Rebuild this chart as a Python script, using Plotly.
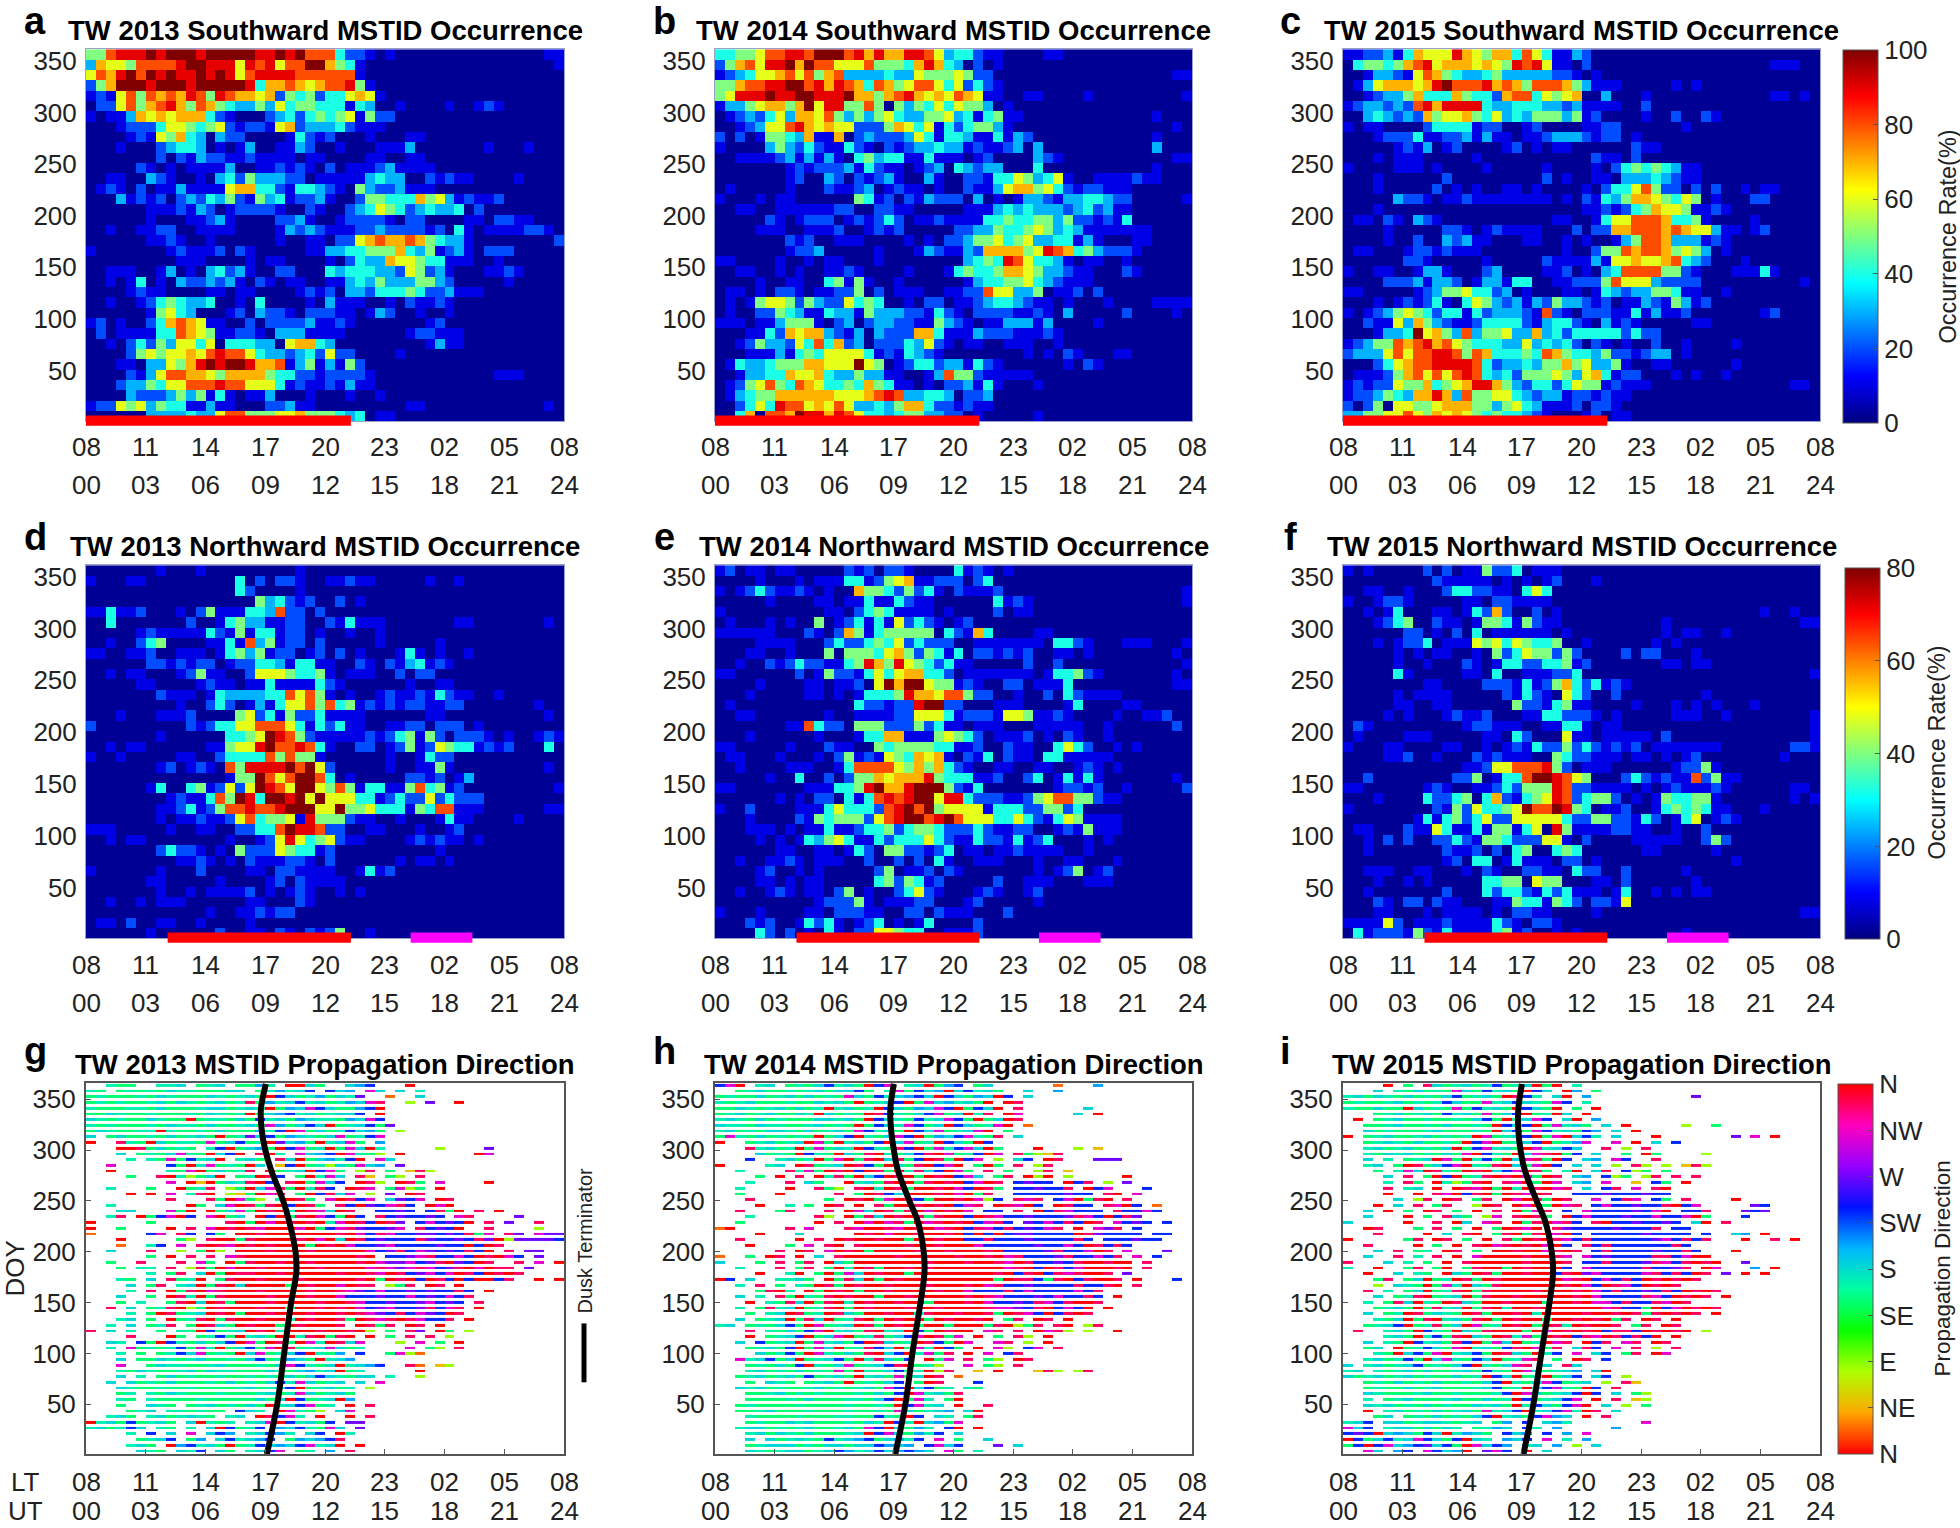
import plotly.graph_objects as go

W, H = 1960, 1528
NCOL = 48

# Occurrence panels: one string per 10-DOY row, top row first. Tokens are "startcol:levels".
# Level digits 0-9 are tenths of the colour scale, X is the top of the scale.
A_ROWS = [
"0:558999X9XXX9XXXXX99X9X8884221 30:1 46:11","0:3766588889XX9996989688XX7541 47:1","0:6879X8X9X99X9X96899998888883 27:1","0:257XXX9XXX9XXXXX947787678895 28:1",
"0:121685878798598776725452446761","0:02268578975875433536455444143001 36:1 39:121","0:1011376767774210002342454561 28:5 29:22","0:000122246654562122167233342111",
"4:1216574303220000142120001 32:11","3:1 7:234430101300113200 25:1 29:1113 40:1 44:1","7:202132211211110110000 28:11 32:11","5:21 8:1 10:1111 14:3 17:11 19:2 20:1 21:2 22:1 24:2 26:1112 30:3 31:1111",
"2:11 6:3 7:21 11:1 13:3 14:4 15:2 16:5 17:333 20:22 23:11111 28:3 29:4 30:33 34:212 37:11 43:1","1:121 5:2 7:11 9:3 10:1111 14:6 15:77 17:44 19:2 20:1 21:44 23:3 24:2 25:1 27:5 28:3 29:22 31:3 32:111","3:31212 9:232 12:43 14:5 15:2 16:1 17:5 18:3 19:4 20:1 21:22 23:31 27:2 28:55 30:44 32:4 33:7 34:5 35:6 36:3 37:1 38:2 39:11 41:2","6:111 9:2 10:1 11:3 12:2 14:1 15:2222 19:1 22:2 23:1 26:2 27:3 28:4 29:6 30:5 31:4 32:2 33:3 34:4 35:33 37:4 39:2",
"6:1 10:11 12:2 13:3 14:1 19:22 21:3 22:1 25:1 26:2222 30:1 32:22 38:11 41:22 43:11","2:1 5:11 7:22 11:1111 19:1 20:3 21:2 22:3 23:2 24:11 26:1 27:22 29:3 30:2222 34:1 35:2 37:4 38:1 40:1111 44:22 46:1","6:11 8:2 9:1 12:1 19:1 22:11 25:22 27:6 28:7 29:8 30:77 32:8 33:7 34:5 35:4 36:33 38:1 47:2","0:1 8:1 9:2 10:111 13:2 15:2 16:1 22:11 24:33 26:44 28:555 31:7 32:4 33:3 34:5 35:1 36:2 37:3 38:1 40:222",
"9:111 16:1 18:11 24:1 26:2 27:4 28:33 30:7 31:66 33:5 34:44 36:111 41:1","2:111 7:1 8:3 10:1 12:3 13:4 14:2 15:3 16:1 19:22 24:4 25:3 26:444 29:33 31:2 32:6 33:5 34:2 35:3 36:1 40:11 42:2 43:1","2:1 4:1 5:4 7:1 9:3 10:22 12:3 13:2 14:3 15:1 17:2 18:1 20:11 24:11 26:3 27:4 28:3 29:5 30:33 32:3 33:55 35:3 36:2 42:1","4:1 5:2 6:11 12:11 15:11 21:1 22:2 23:1 24:2 26:33 28:2 29:4 30:44 32:5 33:4 34:22 36:3 37:111",
"2:1 5:1 6:2 7:4 8:5 9:4 10:33 12:4 15:1 17:4 22:1 24:3 25:111 30:1 32:2 33:11 35:2 36:1","6:1 7:5 8:6 9:4 10:3 14:1 15:2 17:3 18:22 20:1 22:222 25:11 28:1 29:3 30:2 33:1 36:1","0:1 1:2 3:1 6:2 7:4 8:7 9:8 10:7 11:6 12:11 16:2 18:2222 22:3 23:11 25:2 26:1 34:1 35:2","1:2 3:1111 7:44 9:8 10:7 11:6 12:5 13:11 15:22 17:1 19:333 22:1111 32:1 33:22 35:111",
"2:1 4:2 5:4 6:2 7:5 8:3 9:66 11:4 12:6 14:444 17:33 20:6 21:77 23:4 24:3 34:1 35:3 36:11","4:2 5:5 6:6 7:5 8:66 10:7 11:6 12:8 13:9 14:88 16:6 17:4 18:33 20:2 21:3 22:4 23:2 24:6 25:22 31:1","3:11 6:33 8:6 9:5 10:7 11:9 12:X 13:9 14:XX 16:9 17:77 19:8 20:1 21:3 22:5 23:1 24:3 25:1 26:5 27:2","4:2 5:1 6:3 7:6 8:88 10:77 12:6 13:5 14:7777 18:5 19:44 21:22 23:1 24:2222 28:1 41:111",
"3:2 4:33 6:5 7:4 8:66 10:888 13:9 14:88 16:666 19:4 20:1 21:2 22:11 24:2 25:1 26:3 27:11","4:3 5:222 8:3 9:5 10:3 11:5 12:1 13:4 14:1 16:11 18:3 22:1 26:1 29:1","0:1 1:22 3:6 4:5 5:6 6:3 7:5 8:44 10:11 12:3 13:11 18:22 20:3 21:11 32:11 46:1","6:3333 10:4 11:33 13:6 14:88 16:555 19:66 21:7 22:55 24:5 25:4 26:3 27:4 29:11",
]
B_ROWS = [
"0:4455688998XXX8979779986344211 33:11","0:25786 5:99X7X88666855547974302 27:01","0:12346678685783333433 20:6555 24:65 26:22 46:11","0:5578899XX8979874875688646 25:2421",
"0:56999X99XX999X775789767687 26:611 31:11 37:1 47:1","0:13356775 8:7X6995585 18:5 19:3546465 26:5 27:3 29:1","1:1232463 8:77 10:6 11:8 12:5 13:3 14:5 15:3 16:5 17:6 18:4 19:33 21:55 23:6 24:3 25:4 26:1 27:45 29:11 44:1","2:12 4:3 5:66 7:8 8:9 9:7 10:6 11:7 12:66 14:222 17:5 18:7 19:6 20:4 21:6 22:1 23:4 24:2 25:4 26:55 28:3 29:1 46:1",
"0:2 2:2 4:1 5:55 7:4 8:3 9:7 10:11 12:7 14:2 15:3 16:222 19:3 20:6 21:4 22:1 23:44 25:3 26:11 28:4 29:1 30:3 31:2 44:1","0:1 5:3 6:5 7:3 8:2 9:4 10:2 11:11 13:4 14:2 15:1 17:2 18:1 19:2 20:33 22:4 23:33 25:1 26:2 27:11 29:2 30:3 32:3 44:3","2:1111 6:2 7:3 8:1 9:3 10:1 11:3 12:1 14:4 15:5 16:3 17:44 19:11 21:4 22:1 23:11 26:12 32:3 33:2 34:1 46:11","7:1 8:2 9:1 10:222 13:3 14:1 15:4 16:2 17:11 20:1 21:2 22:3 24:4 25:3 26:2 27:33 32:4 44:1",
"7:1 8:2 11:3 12:2 14:2 15:1 16:2 17:3 18:1 21:3 22:1 25:22 27:1 28:44 30:6 31:5 32:3 33:4 34:6 35:1 38:1111 42:2 43:11","1:1 7:1 11:2 12:11 14:2 15:3 17:1 18:2 19:11 22:1 25:2 26:11 28:3 29:6 30:77 32:5 33:6 34:4 35:2 36:1 37:22 39:111","0:1 4:1 6:11 14:5 15:4 16:1 17:2 19:2 20:1 21:3 22:222 26:3 28:1 30:1 31:33 33:2 34:1 35:33 37:44 39:3 40:22 47:1","2:11 6:111111 12:22 16:22 18:11 25:111 28:3 29:4 30:3 31:4 32:333 35:2 36:3 37:4 38:2 39:3 40:11",
"5:2 6:1 8:1 9:222 13:1 14:2 15:1 16:2 17:4 18:2 20:11 22:2 23:1111 27:44 29:5 30:44 32:55 34:3 35:5 36:22 38:1 39:2 40:1 41:4","4:111 9:111 12:2 15:1 16:2 17:1 18:2 24:22 26:33 28:5 29:44 31:5 32:6 33:5 34:3 35:4 36:3 37:1111111","7:2 8:1 9:2 12:111 19:1 21:1 23:22 25:3 26:55 28:6 29:4 30:5 31:6 32:33 34:44 36:1 37:3 38:1 42:11","7:1 8:22 10:3 16:1 20:1 21:3 22:2 23:11 25:32 27:7777 31:5 32:6 33:9 34:8 35:7 36:4 37:5 38:3 39:222 42:1",
"0:11 6:1 9:1 11:11 16:1 25:3 26:4 27:5 28:4 29:9 30:8 31:6 32:44 34:3 35:1 37:11 41:1","2:11 6:1 8:1 11:11 13:2 14:1 19:1 23:1 24:4 25:5 26:44 28:5 29:77 31:6 32:5 33:33 35:2 36:11 41:2 42:1","4:1 7:11 11:4 12:5 13:1 14:5 15:1 18:1 25:1 26:3 27:44 29:55 31:6 32:4 33:3 34:2 35:111","1:11 4:1 6:22 8:1 10:11 12:22 14:5 16:2 18:111 23:11 25:22 27:8 28:66 30:33 32:5 34:11 36:2 38:2",
"1:1 3:1 4:5 5:66 7:5 8:2 9:5 10:3 11:22 13:6 14:4 15:5 16:4 19:1 21:22 24:11 26:2 27:3 28:44 30:3 31:2 32:11 35:1 39:1 44:1111","1:1 4:22 6:5 7:4 8:3 9:11 11:4 12:33 14:1 15:5 16:333 19:22 21:1 22:4 23:2 24:1 26:2222 30:11 32:2 33:1 35:3 41:2 46:1","0:111 4:11 6:3 7:555 10:1 12:2 13:3 15:2 16:33 18:22 20:11 22:5 23:3 24:2 25:1 27:11 29:333 32:1 33:3 38:1","3:11 5:4 6:2 7:7 8:6 9:77 11:3 12:2 13:1 14:3 16:3 17:222 20:77 22:4 23:111 26:3 27:222 30:111 33:2 34:1",
"2:1 3:2 4:5 5:33 7:2 8:6 9:4 10:8 11:4 12:7 13:2 14:3 16:222 19:4 20:3 21:6 22:2 23:1 25:11 29:111 34:1","3:111 6:3 7:1 8:4 9:5 10:4 11:6666 15:4 16:1 17:2 18:1 19:4 20:3 21:2 22:1 31:1 33:1 35:2 36:1 40:11","1:1 2:4 3:33 5:4 6:555 9:77 11:666 14:X 15:6 16:5 18:1 19:2 20:44 22:2 23:33 25:1 26:4 27:2 28:1 35:1 37:2 38:1","2:1 3:33 5:44 7:7 8:66 10:7 11:4 12:33 14:5 15:33 17:11 21:1 22:3 23:8 24:55 26:2 27:11111",
"1:1 2:2 3:5 4:6 5:8 6:5 7:4 8:8 9:7 10:6 11:44 13:5 14:4 15:7 16:5 17:4 18:11 21:1 23:22 25:3 26:1 27:4 28:1 32:1","1:1 2:3 3:4 4:55 6:777777 12:666 15:7 16:8 17:9 18:8 19:33 21:44 23:3 25:22 27:3","2:2 3:4 4:6 5:4 6:9 7:88 9:6 10:7 11:6 12:8 13:6 14:33 16:4 17:3 18:5 19:77 21:4 22:22 24:1 25:2 26:11","2:4 3:7 5:88 7:7 8:X 9:99 11:7 12:9 13:8 14:6 15:44 17:3 18:4 19:55 21:33 23:22 26:1 32:1",
]
C_ROWS = [
"0:11 2:22 4:3 5:1 6:4 7:7 8:666 11:9 12:7 13:6 14:5 15:77 17:4 18:8 19:6 20:4 21:11 23:3 24:2","1:4 2:55 4:4 5:5 6:7 7:8 8:9 9:6 10:777 13:6 14:7 15:6 16:5 17:9 18:8 19:9 20:6 21:11 24:2 43:111","2:1 3:33 5:2 6:1 7:6 8:8 9:7 10:5 11:4 12:33 14:4 15:5 16:33333 21:22 23:1 25:1","1:1 2:3 3:6 4:777 7:6 8:7 9:9 10:X 11:888 14:9 15:7 16:8 17:7 18:5 19:888 22:7 23:5 24:3 25:111 33:1 35:1",
"2:1 3:2 4:33 6:5 7:7 8:444 11:7 12:5 13:44 15:2 16:7 17:88 19:4 20:6 21:5 22:6 23:7 26:3 30:1 43:11 46:1","0:1 1:2 2:33 4:2 5:3 6:2 7:8 8:9 9:7 10:9999 14:4 15:33 17:444 20:33 22:2 23:3 24:1 25:111 30:2","2:3 3:4 4:3 5:2 6:3 7:2 8:7 9:5 10:66 12:7 13:5 14:4 15:6 16:3 17:4 18:3 19:555 22:3 23:5 24:1 25:2 30:1 33:2 36:2 37:1","0:1 2:11 8:2 9:4444 13:1 14:22 18:1 19:2 24:11 26:22 34:1",
"3:1 4:222 7:4 8:11 10:22 12:3 13:1 14:3 15:11 18:11 20:2 21:333 24:2 25:1 26:22 29:1","5:1 6:2 7:1 8:3 10:1 11:2 16:1 17:2 19:1 21:11 29:2 30:11","3:1 5:111 13:1 25:2 26:11 29:2","0:1 5:111 9:1 14:1 20:1 25:1 27:2 28:4 29:5 30:4 31:5 32:4 33:3 34:11",
"3:1 10:2 20:2 22:1 25:11 28:333 31:4 32:3 33:2 34:11","3:1 9:2 11:1 13:1 16:11 19:1 24:1 26:2 27:44 29:6 30:8 31:5 32:22 35:2 37:2 40:1 42:11","5:3 6:22 8:1 10:11 12:2 13:11111111 22:1 24:2 25:1 26:4 27:3 28:5 29:77 31:6 32:5 33:4 34:6 35:5 37:1 41:22","3:1 24:11 26:2 27:1 28:2 29:4 30:5 31:7 32:66 34:5 35:1 36:1 37:2 38:1",
"1:11 4:2 5:1 7:3 8:2 9:1 21:11 25:1 26:4 27:66 29:888 32:7 33:44 35:5 36:1 41:1","4:1 10:22 12:1 14:1 15:2 16:1111 23:2 25:22 27:77 29:888 32:7 33:8 34:7 35:66 37:3 38:11 41:1 42:2","4:1 7:2 10:3 11:2 12:3 13:11 18:11 22:1 24:1 27:1 28:3 29:5 30:88 32:7 33:333 36:1 37:2 38:1","1:11 6:1 7:22 9:1 10:2 11:111 22:1 25:2 26:55 28:8 29:7 30:88 32:7 33:5 34:6 35:5 36:3 38:1",
"6:22 8:1 14:1 20:2 21:1111 25:3 26:1 27:66 29:7 30:66 32:7 33:8 34:4 35:3 36:2 40:1","0:1 3:11 7:1 8:33 10:1 14:2 15:3 20:11 22:2 24:1 26:3 27:4 28:8888 32:55 34:2 35:1 39:111 42:4 43:1","4:222 7:3 8:1 9:33 11:2 13:1 14:33 16:1 17:44 21:11 23:2222 26:5 27:8 28:666 31:3 32:2222 46:1","0:11 7:12 9:3 10:55 12:6 13:44 15:2 16:3 18:1 22:11 25:1 26:4 27:3 28:2 29:33 31:55 33:4 34:1 35:1 38:1",
"3:1 5:1 6:2 7:1 8:2 9:4 10:1 12:4 13:6 14:5 15:3 16:2 17:3 18:1 19:3 20:2 21:5 22:33 24:2 25:1 26:2 28:11 30:3 31:2 32:1 33:5 34:3 35:1 36:2","0:1 2:1 3:2 4:3 5:5 6:6 7:5 8:4 9:2 10:44 12:1 13:4 14:2 15:333 18:2 19:1 20:8 21:2 22:1 24:222 27:11 29:4 30:1 31:3 32:11 34:2 42:1 43:2","2:2 3:11 5:6 6:3 7:7 8:5 9:3 10:2 11:11 13:2 14:4444 18:2 19:1 20:3 21:44 23:2 24:1 26:3 27:1 28:2 29:1 35:11","3:1 4:33 6:4 7:X 8:6 9:7 10:5 11:3 12:8 13:3 14:55 16:6 17:33 19:7 20:3 21:4 22:2 23:44444 28:2 29:4 30:22",
"0:1 1:2 2:3 3:55 5:8 6:7 7:8 8:9 9:7 10:8 11:6 12:5 13:444 16:33 18:6 19:3 20:4 21:3 22:4 23:2 25:2 26:1 28:1 31:2 34:1 39:1","0:2 1:333 4:6 5:8 6:6 7:88 9:99 11:8 12:5 13:8 14:7 15:444 18:5 19:4 20:8 21:7 22:5 23:44 25:3 26:5 27:22 29:1 30:2 31:33 34:1","3:2 4:4 5:6 6:7 7:88 9:9999 13:8 14:4 15:2 16:33 18:4 19:3 20:55 22:7 23:5 24:6 25:33 27:5 28:1 31:11 39:1","1:111 4:2 5:5 6:7 7:8 8:6 9:8 10:6 11:8 12:9 13:8 14:4 15:3 16:4 17:2 18:555 21:6 22:5 23:3 24:6 25:7 26:4 27:1 28:22 33:1 35:1 38:1",
"0:1 1:2 2:1 3:22 5:6 6:55 8:7 9:4 10:5 11:6 12:7 13:99 15:7 16:5 17:3 18:2 19:44 21:2 22:4 23:6 24:55 26:1 27:2 28:111 45:11","0:1 1:22 3:3 4:5 5:4 6:3 7:77 9:9 10:7 11:3 12:8 13:55 15:66 17:4 18:3 19:2 20:33 22:1 23:22 25:1 26:2 27:11","0:2 2:2 3:5 5:66 7:55 9:6 10:777 13:55 15:3 16:5 17:6 18:4 19:3 20:111 23:2 25:22 27:1","0:33 2:55 4:66 6:8 7:6 8:5 9:7 10:6 11:7 12:6 13:5454 17:4 18:3 19:2 20:1 24:1 25:2 27:11",
]
D_ROWS = [
"7:1 11:1 21:1","0:1 4:11 15:4 17:2 19:22 21:1 24:11 26:2 27:11 34:1 37:1","15:4 16:2 21:1","17:5 18:3 19:4 20:2 21:1 22:2 25:2 27:1",
"0:11 2:4 3:11 5:2 9:1 11:2 12:5 13:111 16:44 18:3 19:8 20:22 23:2","2:4 10:2 13:1 14:4 15:5 16:33 18:11 20:22 24:2 25:1 26:4 27:111 37:11 46:1","5:1 6:2 7:1111 11:1 12:4 13:2 14:1 15:5 16:1 17:44 19:1 20:22 23:1 26:1 29:1","2:1 5:2 6:4 7:5 12:11 14:4 15:1 16:8 17:3 18:5 19:1 20:22 23:2 29:1 35:1",
"0:11 4:11 6:2 9:111 13:1 14:4 15:5 16:3 17:5 18:1 19:22 22:1 23:2 25:2 27:1 31:1 32:4 33:1 35:1 38:1","6:22 8:1 9:2 10:1 11:22 14:1 15:22 17:44 19:3 20:1 21:44 23:11 27:2 28:1 30:2 31:1 32:3 33:4 34:1 35:2 36:1","2:1 4:11 9:1 10:2 11:5 12:11 16:2 17:666 20:5 21:44 23:5 24:1 26:111 31:2 33:22","5:11 11:1 12:2 13:11 16:11 18:4 19:11 21:11 23:4 24:2 25:1 32:1 35:11",
"7:2 8:111 12:1 13:4 14:3333 18:44 20:8 21:6 22:8 23:5 24:1 26:1 29:1 30:2 31:11 33:2 34:1 35:4 36:2 37:11 41:1","9:1 12:2 13:4 14:2 16:1 17:3 18:1 19:4 20:66 22:8 23:5 24:8 25:4 26:5 27:1 28:2 29:1 30:2 31:1 32:22 34:11 36:22 45:1","3:1 7:111 10:2 15:5 16:6 17:2 18:4 19:1 20:5 21:22 23:4 24:1111 34:11 46:1","0:2 10:2 11:1 12:2 13:44 15:66 17:888 20:6 21:4 22:1 23:4 24:2 25:4 26:11 30:11 32:22 35:222 39:1",
"7:1 14:44 16:5 17:6 18:X 19:9 20:8 21:5 22:2 23:11111 28:2 29:1 30:2 31:4 32:5 33:1 34:5 35:2 37:222 40:1 42:1 45:1 46:2 47:1","2:1 4:11 12:11 14:5 15:66 17:9 18:X 19:88 21:9 22:8 23:4 24:1 27:22 30:1 31:2 32:5 33:1 34:2 35:6 36:5 37:44 39:1 40:2 41:1 42:2 46:4","0:1 3:1 9:11 13:2 14:4444 18:8 19:5 20:8 21:55 23:1 30:1 33:1 34:4 35:22","7:1 8:2 10:1 11:2 12:1 14:8 15:5 16:9999 20:X 21:8 22:X 23:6 24:2 30:1 33:11 35:5 36:1 46:1",
"14:1 15:55 17:X 18:8 19:6 20:8 21:XX 23:8 24:4 26:1 32:22 34:1 35:2 37:1 38:3","6:1 7:4 10:4 11:5 12:1 13:2 14:6 15:2 16:6 17:X 18:9 19:8 20:6 21:XX 23:6 24:5 25:8 26:5 27:1 28:44 30:11 32:5 33:8 34:4 35:5 36:1 37:2 47:1","8:1 9:2 10:11 12:4 13:8 14:5 15:X 16:9 17:4 18:XX 20:9 21:X 22:6 23:X 24:666 27:44 29:1 30:2 31:4 32:22 34:6 35:2 36:4 37:222","7:11 9:2 10:4 11:1 12:2 13:5 14:88 16:9 17:88 19:9 20:XXX 23:66 25:X 26:55 28:6 29:444 32:1 33:5 34:4 35:88 37:111 46:11",
"7:1 9:11 11:2 12:11 14:2 15:6 16:8 17:4 18:55 20:6 21:1 22:9 23:555 26:2 27:11 31:1 35:1 36:4 37:11 43:1","0:111 8:1 11:11 15:22 17:44 19:8 20:X 21:99 23:8 24:22 28:11 33:1 36:1 37:2","2:1 4:11 14:1 17:1 18:2 19:6 20:9 21:6 22:4 23:5 24:6 25:2 26:11 32:1 33:2 34:1 35:2 36:11 39:1","7:2 8:4 9:22 11:1 13:1 15:5 16:222 19:6 20:5 21:44 23:1 24:2 35:1",
"9:11 11:2 12:1 14:1 16:2 17:111 20:22 22:1 24:2 31:1 33:11 36:1","0:1 7:1 11:2 16:11 19:22 21:1111 27:1 28:4 29:1 30:2","6:11 13:1 18:1 19:2 21:2 22:1 23:111","7:1 10:1 12:1111 16:2 18:1 20:1 21:2 22:1 25:1 27:1",
"2:1 5:1 7:111 16:11 21:2 22:1","12:1 15:11 17:2 18:1 19:22","1:11 4:2 7:11 11:1 16:1","6:1 13:2 16:11 19:2 20:1 22:2 23:1 24:2 25:5 28:1",
]
E_ROWS = [
"0:1 1:2 3:11 6:11 13:2 14:1 15:2 17:22 19:1 24:4 25:1 26:2 27:1 29:1","4:1 8:1 10:111 13:44 15:1 16:2 17:5 18:6 19:7 20:11 22:222 26:2 27:4","0:1 2:1 3:2 4:4 5:2 6:11 8:2 9:1 11:1 14:7 15:55 17:4 18:2 19:5 20:2 21:4 22:1 24:2 25:111 28:2 47:1","5:1 10:11 13:11 15:4 16:11 18:4 19:2 20:11 28:4 29:1 30:2 31:1 47:1",
"0:1 11:11 14:2 15:4 16:5 17:4 18:1111 23:1 28:2 30:11","1:1 5:1 7:1 10:5 12:1 13:2 14:4 15:1 16:4 17:1 18:6 19:2 20:4 21:2 22:1 24:1 25:2","0:111111 9:2 10:1 12:2 13:7 14:5 15:1 16:4 17:55555 23:4 24:2 25:1 26:7 27:4 32:11","4:1111 11:2 12:4 13:22 15:4 16:5 17:4 18:6 19:2 20:4 21:222 26:1111111 34:44 36:2 37:1 41:111 47:1",
"3:11 7:1 11:5 13:555 16:4 17:6 18:7 19:5 20:2 21:5 22:4 23:1 24:4 26:22 28:1 29:2 30:1 31:2 34:11 37:1 46:1","2:1 5:2 6:1 7:2 8:4 9:22 11:11 13:4 14:5 15:9 16:7 17:5 18:9 19:6 20:5 21:4 22:2 23:4 24:11 31:2 34:2 47:1","0:11 8:2 10:1 11:5 12:22 14:1 15:4 16:6 17:4 18:6 19:77 21:44 23:2 25:1111111 33:1 34:44 36:5 37:2 38:1 46:1","4:1 9:11 12:11 14:2 16:6 17:X 18:7 19:XX 21:6 22:55 24:1 25:2 26:1 29:22 32:1 33:11 35:4 46:11",
"3:1 9:11 12:1 14:1 15:444 18:5 19:9 20:77 22:6 23:88 25:5 26:22 30:1 33:2 35:4 36:2 37:1111","1:1 14:4 15:22 17:1 18:2 19:2 20:9 21:XX 23:22 28:111 35:1 36:4 41:11","2:11 11:1 14:1111 18:22 20:666 23:4 24:1 25:222 28:1 29:66 31:5 32:11 34:2 35:1 40:1 43:11 45:2","7:11 9:8 10:4 11:22 14:555 17:222 20:5 21:2 22:4 23:11 26:111 32:11111 39:1 46:2",
"3:1 10:1 14:1 15:44 17:77 19:11 21:1 22:5 23:6 24:5 25:4 26:2 28:111 31:2 33:1 35:2 36:1 39:1","0:11 7:1 11:2 12:11 16:5 17:4 18:5 19:555 22:44 24:11 26:2 29:2 30:11 34:4 35:6 36:4 37:2 40:1 42:1","1:11 6:1 10:1 12:2 13:5 14:1 15:2 16:1 17:6 18:5 19:4 20:7 21:6 22:7 23:1 25:2 26:1 27:4 29:2 30:11 33:44 35:11111","2:1 7:111 12:1 13:4 14:8888 18:6 19:5 20:7 21:5 22:7 23:4 24:2 25:1 28:11 32:11 36:1 37:2 38:1 40:1",
"5:1 8:4 11:2 13:2 14:55 16:7 17:6 18:777 21:9 22:5 23:444 26:11 28:2 31:2 32:4 34:1 35:4 36:1 37:4 38:1 46:1","0:11 9:111 12:44 14:5 15:9 16:X 17:77 19:9 20:XXX 23:5 24:2 25:1 26:4 34:1 35:22 37:1 38:2 41:1 47:2","6:1 8:1 10:22 13:4 14:1 15:4 16:8 17:9 18:8 19:9 20:XX 22:6 23:99 25:4 26:222 29:11 31:2 32:5 33:6 34:88 36:55 38:2 39:11","0:1 3:2 8:111 11:4 12:6 13:44 15:4 16:2 17:8 18:9 19:X 20:8 21:X 22:5 23:6666 27:1 28:444 31:22 33:55 35:2 36:4",
"3:1 8:2 9:1 10:5 11:4 12:555 15:2 16:6 17:8 18:9 19:XX 21:8 22:9 23:X 24:8 25:666 28:44 30:6 31:4 32:2 33:1 34:4 35:6 36:5 37:1111","3:111 7:1 9:11 11:4 12:11 14:2 15:44 17:5 18:2 19:4 20:55 22:4 23:222 26:4 27:2 28:11 30:22 34:1 35:2 36:1 37:5 38:111","4:1 6:1 8:1 9:4 10:3 11:5 12:6 13:4 14:11 16:4 17:2 18:444 21:6 22:4 23:2 24:11 26:4 27:22 29:1 30:4 31:1 32:2 33:4 37:1 39:1","6:11 10:11 13:1 14:4 15:2 17:55 19:22 21:1 22:2 23:4 25:11 28:11 30:2 31:1111 37:1",
"2:1 5:11 7:2 8:1 10:111 15:2 18:2 20:2 22:4 23:1 26:111 32:1 35:11 40:1","4:1 5:2 8:1 10:1 16:2 17:5 19:11 21:2 23:2 24:1 32:1 34:1 35:2 36:5 38:1 39:2","4:11 7:1 9:11 16:4 17:5 18:2 19:5 20:4 21:1 22:2 28:2 31:111 37:111","2:1 5:1 6:2 7:1 9:11 12:2 13:5 15:1 18:2 19:4 20:6 21:2 22:1 26:1 27:2 28:1 31:1 32:2",
"10:1 11:222 14:5 15:1 17:111 20:22 25:1 26:2 32:1","0:1 4:1 9:11 12:222 15:11 19:22 22:2 23:111 29:2","3:2 4:1 5:2 8:1 9:4 10:2 11:4 12:1 14:1 15:2 16:4 18:1 20:1 21:4 26:2","4:4 5:2 7:2 9:1 11:4 12:1 14:22 16:66 18:5 19:44 23:11 25:1 26:2",
]
F_ROWS = [
"0:1 2:1 8:2 10:2 12:11 14:5 15:22 17:4 19:111","9:2 10:11111 16:1 18:1 20:1 21:2 25:1","2:11 6:1 10:2 11:44 13:22 15:11 18:4 19:6 20:4","0:1 3:1 4:22 6:1 12:11 15:22 17:1111",
"2:1 4:1 5:4 9:11 12:1 13:4 14:2 15:7 16:2 19:2 21:1 42:1 45:1","3:1 4:2 5:4 6:5 9:2 10:11 13:1 14:55 16:4 17:1 18:5 19:2 20:11 32:1 46:11","6:22 9:1 11:2 13:4 15:111111 22:1 32:1 34:11 38:1","3:1 5:1 6:22 8:4 10:111 13:6 14:5 15:6 16:4 17:6 18:5 19:44 21:5 24:1 31:1 33:1",
"5:1 7:1 9:11 13:1 15:5 16:2 17:4 18:6 19:55 21:2 22:5 23:2 28:2 30:22 35:1","5:1 8:1 12:2 13:1 15:1 16:44 18:22 20:44 22:5 23:1 24:2 32:11 35:11","5:4 6:1 12:11 15:4 18:111 21:22 23:4 47:1","8:11 14:222 17:1 18:4 19:1 20:2 21:5 22:7 23:4 24:2 25:4 26:1 27:2 28:1",
"5:1 7:1111 16:2 17:1 18:4 19:2 20:1 22:6 23:4 24:2 27:2 36:1","5:11 9:11 17:5 18:22 20:1 21:4 22:5 23:11 29:1 33:1 35:1 37:1 41:1","4:1 6:1 10:1 11:2 12:11 14:2 18:11 20:44 22:222 25:1 27:1 33:111 38:1 47:1","1:2 2:1 12:1 13:22 15:11 17:1 20:11 22:44 24:1 26:11 47:1",
"1:1 6:111 14:11 17:4 18:2 22:6 23:11 26:11111 32:2 47:1","0:1 4:11 10:11 14:1 16:1 17:2 18:1 19:4 20:22 22:5 23:2 24:4 25:2 26:1 27:2 28:1 29:2 31:1111111 45:22 47:1","4:11 6:2 9:1 13:2 14:1 15:2 16:111 21:5 22:4 23:22 25:111 29:11 32:1 34:1 35:2 44:1","12:11 14:2 15:66 17:88 19:8 20:9 21:5 22:2 24:1 25:11 33:1 34:22 36:5 37:1",
"2:2 11:22 13:5 15:1 16:44 18:8 19:XX 21:9 22:8 23:6 24:5 28:2 29:4 30:2 31:1 32:2 33:11 35:8 36:2 37:5 38:11","0:11 8:1 9:2 10:1 13:11 15:2 16:4 17:2 18:55 20:5 21:9 22:8 23:22 25:1111 30:1 32:1 33:2 34:111 37:2 38:1 45:11","3:1 8:4 9:22 11:4 12:5 14:4 15:7 16:2 17:1 18:4 19:5 20:6 21:9 22:8 23:2 24:4 25:55 27:2 29:1 31:1 32:5 33:44 35:55 37:1 45:1 47:1","0:1 9:2 10:1 11:5 12:2 13:6 14:44 16:5 17:6 18:X 19:88 21:X 22:9 23:5 24:4 26:11 28:2 31:1 32:4 33:5 34:4 35:5 36:4 37:11 42:1",
"7:1 8:4 9:1 10:4 11:5 12:2 13:4 14:6 15:22 17:66666 22:4 23:22 25:55 27:22 29:1 30:4 31:2 33:1 34:4 35:6 37:1 38:2 39:1","1:11 6:2 7:11 9:6 10:4 11:11 13:4 14:1 15:55 17:1 18:4 19:6 21:9 22:5 23:1111 27:22 29:11 33:1 36:2","2:1 4:2 6:2 9:22 11:4 12:2 13:1 14:55 16:4 17:222 20:66 22:1 24:2 29:11111 36:2 37:5 38:2","2:1 10:2 11:11 13:2 15:2 17:4 18:5 21:4 22:5 23:4 30:11 37:1",
"10:1 11:2 13:44 16:1 17:4 18:111 22:22 25:1 39:1","2:111 7:11 12:1 14:2 15:1 18:22 20:11 23:4 24:22 28:2 34:1","3:1 6:1 8:1 14:44 16:55 19:6 20:55 25:11 28:2 35:1","2:1 10:2 14:4 15:2 16:44 18:2 19:1 20:4 21:2 22:4 23:111 27:1 28:4 31:1 33:1 35:11",
"3:2 4:1 6:22 9:2 10:11 15:11 17:5 18:44 20:1 21:5 22:4 23:2 25:22 27:1 28:6","3:11 8:1 10:1111 15:1 17:22 19:11 25:1 46:11","0:1111 4:6 5:2 7:111 10:2 11:1111 15:4 16:2 17:1 19:22 21:1","1:4 2:1 3:222 6:1 7:5 8:2 9:1 10:4 11:1111 15:4 16:5 17:1 18:2 21:1 23:1 34:1",
]

# Direction panels: one string per row, top row first; one letter per half-hour bin, "." is empty.
DIR_DEG = {"r":0,"o":25,"y":50,"l":85,"g":148,"t":168,"c":183,"a":205,"b":235,"p":270,"m":310,"k":340}
G_ROWS = [
"..tgg..ttc.gtc.ggat.rrcg..cab...r.","tg.gtgtgcttgggcc.gtatcb.bca.mc.c.t","gtgggtgctgggctgtcgrbcgtagctp..o..c","gtgtggtcgctgtcgtkgatcbtcgtacmk..l.p..r",
"tgggttgcgggtccgtctrgacmbcggabr......","ggctggtgggtgctgtrgcabtcgtccb.r","ctgtggctggrgttgcgbtcgacttgacmb","tgtgggtgcttgcggtcgmagcbcrgtcbgp",
"gctggttrtggtgcgggatbrmgcgtbcag.l","c.gcggtgcgtcgrgtpcbgactgcmgtbm","r..ktgrcgttgmgcbgtrpcagrtcmg.a","...rrkgcgtg.tbrgcagrbmgtrgmcrt.....l....p",
"...c.gtgcmtgrcbr.krt.mcabrmtgl.r.......rm","....t.tgmgbtcr.tcg.kcrgcatbr.mc.","..m.....bgrtmgtgrc.ybrgtlcgmca.p..","..r.....tgmrgcgtk.rgtcrbmg.lk.g.ykl",
"....g..krtlgcr.gtrkb.grtmc.ky.gl.k..","........m.ryrgctkrb.krgmcb.rkl.rkg.m....r","..t...g..rgtk.lgrcmkgrtkb.rkm.gmlg.r","....r.r.m.tkr.lygrmk.grbkcm.l.p.rk",
"........k...kgrmgl.trkg.mrkbm.cpbm.rk","..t.......rg.cmrkgkrbrkg.kbrpbmkb.rmr","...cc...mgr.rgcmgrkrtrkmcrk..bbpb.bkgr.k.r","..tk.rgbmrb.mrgc.rbrgkrmbgrb.kbpbbpb.mk....p",
"r.....g.......krgrmrkrkrtmrkbrkp.bmbpbr.k.p..k","r..g....r.k.mrkrkmrrrmrgbmkpbbpm.kbpbr..k....l","o.....bm.kb.bg.rrkrrrrrrrkrmbkmbbppbpbkgm.kp.mppbm.m","...r.....gl.krrgkrrrrkrmrcrkbpbbbkpbbpbkprlppppbk",
"...o..tb.m.krkmrkrkrrrgrkrmbbpmbbbbpbbrbrk","..c...k..l.grl.rrrkrrrkrrrrrmbpkbmpbpbkbr.k.pp..r","......g.r.k.k.mkrrrrrrrrrrrkr.bbpmkbbmbrkrmb.p","..g..k...k.mg.rgkrrkrrkrrrrkrmppmbpkrpbrk..k.m.r",
"...g.tt.k.lkgrmrrkrrrrrkrrrrmkmpmkmbpkrmrkk.p...k","......t.gk.crgrkkrrkrrrrrkrrkmrkbpmbmrkbrkrk","...tg.c.kgtr.gkrrkrrrkrrrrrkrgrkrbrkbrbrrbk..r.r","....c.gk.tcrgkrcrrrrgrkrrmrkk.lgk.rk.r",
"....t.k.rgkrmkrrrkrrrrkrrkmpbmbbpbpbbkb.r","...c..g.rktrgkrrrrkrrrkrrmbbbpbbmbpbmbk","...g.t..gkrcrkgrrrkrrrrkrrkmbbpbbpmbpb.k","..k.c.gtkrlgrkrrrkrrgrrkrkrmbpmbbpkbmk.r",
"....t.grkgtcrkrgrrkrrrkrrkrkmpbkbmpbrk","...tc.g.rgtkrgkrrkrrtrkrrkgrkmkrkmbbk.r.","..t.c.gtk.grkcgrkrrgrkrrrk.rkgk.rk.r",
"k.c.t..g.tgrbgtcrkrtrrrkrrkrl.g.kp.rg.l","....k...rg.gtbgrtcgrrtkrgkr.r.g.k.k.l","..ct.bgrbtgcgcbrmgrkgrmtrkcm...l.m.g.r","..t.mgtgtbgmtrgcbgmrkgtcmcgt....m.gl.k",
"...t.g.gtbcmgtgrcmgtcbrtga.b..gmlo.","...c.ggctgtcggtgcbgtacgrtca..","...m..gcttggtcgggtgcmbtgcrtcab..ko.yl",
"...tgctggtcgcttgggctgcatcrgt.....r","...c.t.gcgtggtggtgtgcgcbctgcc.t..l","..c.cgtgcgggtgcgtgcbtmcgtc.c.m","...ctggtggtggggtcgtcbrgtcgt.l",
"...gt.tgctgggtgggtcgtmcgtcg","...tg.tggggtgggggcgcrbgtcra","...g..ctg.gtcgtgcgrtcbmgt.r.k","....gtc.ttgtgg.bct.rmtgl.cm",
"..tcg.tcgtctg.tc.rkbmt.r..r.k","rtcgbgtcg.crtgt.tcmrbtcgb.pp","tcgtbc.tg.t.crbgtb.acbtgmc.p",
"....t.b.c.m.cba.tcbat.cb.rt",".....gtcb.ga.cbtcab.gacabk..","....tcg.rabtcgrgtbcacbmtcr.r",
".....ctg.ctb.cg.tcbm.gt.a.k",
]
H_ROWS = [
"bmr.tc.gtgcbtcgrbm.tcrgab.gc......o...a","..gtcggtgtcgccbg.tmgbcarcbtcg..c..a","gtggcgtcgcgtgmcgbtcabcrbcgacrb.c","tgtcgggtggctcgrgtcbrgmcatcgr.rk",
"ggctgtcgcgtrtcgtrbcgacmbrgbcr.k......c","gtcgtcggctrcgtgrkbtgcbmgcrtk.rm.....c.r","tctgcgtgggcctcgrbctgbtcmbgrgcrk.","cttgcttggtcgtgrgbctmbgcrbcgtmr.o",
"tcgtgcctgcgtcgmbtcgrbcmgtcmr.g","gmtgcgtgtgrgcbrtgcmbrgacbmtgk.c","r..gtcgtcrmgrtcgbrcmgtrbcgrb...","...ktcgtrgmgctrbtgkbrgmtbmcrg...r...l.y",
"....cgtgrbtgrcgkrtgcbkrmgtbrm.kglyk","...b..tcgtrgmrgkrckgbrkgrbm.l.cb.rk...ppp","r....tc.rkgtcrkbgrcgkrbmr.grg.k.lk.......","..t....ktmgrkrbrkgrtkcbrmg.k.g..lk.y",
"....g.r.k.rtkgrcbrkrgrkrbmc.gk.rlr.l.....r","...t...k.cg..rtcgkrrgkrkrbmrk.bpbb.rbk.l.p....","..t....r..kgl.krtrkgrrkrmbrkg.bbpbbk.rbm...b..","..g...r.....k.grkbcrrrkrmrgk..bbbbbpbb.kr.m",
"...k.......g.rkrgmrkbgrrkrmlb.kmk.bmrgkr.k","....r..t.g.rk.r.kgrrkrkrbmk.rkmrb.rkbb.kmrb.o","..k...gk...k.rmcrkgkrmrkrm.bb.k.rbkmbbb.kbbmb","...t......kl.rgkcrkrkgkrrbrkmbbpbbbpkmbrbkp",
"..g.......r.k.rmrmkgrmkrkrbmkb.pbmbkbrk.mbpb.b","or.....k.m...kmrrkmrkrmkrbkmbkbpbmk.r.mpk.b","....r...c.....rkrmrrkrrkrbrbrbppbbbbrkpbbbb.bb.","..k.....r.k.rkrrkrrgrrkrrbbkbbbpbbbbkb.bbbpbb",
"...r...g.m.kr.krrrrkrrkrrrmbbbbbpbbmbrkbkb","......k.rk.mrkrgrrrrkrrkrrrkrbbbbpkbbmrk.m...p","o..g.rk.r.c.krrrrrkrrrrrkrrkrmkbbbpkbbmbk.m.b...r","c...g.k.gk.rcgrrrrrrrkrrrkrrkmrkbbpbkrrkrr.k",
"..t...k.gk.grtrkgrrkrkrrrrrrrmkrbrkbmrrrkr.k","....r..tr.grgmcrkrrgrrrrrrrrkrbkrbkmkrrk.p","rb.c..ttcg.rgkcrgrkrrrrrrrrrgrkkbgkrbkrrk.r...b.r",
"..t.k.g.tgrkgrkrrkrrrkrrrkrmkbbpbbbbkbbkr.k","....gkrt.rgrkrgrrkrrrrkrrmbbbkbmbbbbmbk","..c.t.kgrtgkrkrrgrrkrrrrrkrkmbbbpbmbbkb.r","...r.tgkcrgkrtrkrrkrrgrrrkrmbbpbkmbkrrk",
"..t.gktcrgtkrgrkrrrkrrkrrrrkmmpbkrbmbr.r","...g.tcrkgtrkcgrrkrrtkrrkrrkgrkmbrbkrk","..c.gtcrgkcrgtkrgrkrrgrkrrkr.gk.rk.r","tc.gtgcbgrmgtcrkgrkrgrrgrrrgkrlgk.kr.lk",
"...k.tgcgbmrtcgkrtcrbgrkrr.mk.k.rmkl.l..r.","...r.gtcbrgcmrgtkgcbmrkgm.r.g.kl.r.","..c.bgtcrgmtcgbrkcgtrkbgrm..mk.l.r","...gtcgbrgmcrgtkbcrgmtrbg.r.ml.bm.k.",
"....cgtbgrmtgcgkrcbrtmgk.r.m.bk","..mtcbgcrgtcbgrtkcgb.rgm.k.gl.rk","...gtgcgbrtgcmgtcbkrgtl..m.gl.k",
"...tcgtgcgtgmgrtgcbgtrlk..y.r...ykl.lk","..gtcgtcgbgtcgrtcgmgcrk.o.....","...g.ctg.gtcgrgtgcb.grk...b",
"..ctcgtggtcgtgtcgmbrcbgt.tg...","...ggtcgtgtgggtgcgbrmtcgk..","...ggggtgcgggttgcbrgmt.gr.","..gtggggtggggtggtgrbmtc.r..k",
"..ggtcgggtgggtggtgmcgtca.cr","...tggggtgggttggbtgrb.ct.gk","...gtggctcgggtgctrbtrcagm","..tccgtgtcggtcgmbrcgat.br.r",
"...tcgctgcgggtcrbmcgatb.c","...c.cgtctgbtcabgcatb.m.g..c","...gtcccgtgccgccbaca.bmcb...p.c",
"...ctgtccgtcbatcbcabac.mg.t",
]
I_ROWS = [
"....r.g.kcgtcgtbgtcrgr.t.","...c.tgcgtgmcgbtcgrbc.ra.g","tcgctgcgtgcbgtcgrkbt.cr.a..........p.","gtggtcgtgtbcggmtcbctgmb.t",
"tggcggrcgtgmgbtcgrbcgr.g.r","...gtcgtcgbtcgmgcbrgtrc.r",".r.gtcggtggtgcbgrtcmb.cr.a","..ggtcggtgcggtgrbcbrgmtcg.c.r.....l..g",
"..cgtgggtcgggtgrcbgmbtcgba.c.r","r.gtcggtcgtgtrmgtcbrgmrcbt.c...r.......p.m.r","..gtctgcggtgrbmrgtcbrgtam..m.r.c.b","..tcgtcgtgcrgbmtcgrmtcbc..k.l.k",
"..tgctcgtgcgmrbtgrcmkrgb.c..g.rg....l","..c.t.gtcrmgrtbgrcmkgrb.ca.mb..k","..tc.grkgcbmrtgkrcgmrb.c.c.l.kl.l.ykl","...g.tmcrktgrkrcbmrkg.tr.ck.blg.g",
"....c.k.grbrgtkrkrmgrk.ca.blg.lk.k.k","....t.kg.rtlgkr.kmrgrm.ca.m..y.bg.r","....k.tc.r.rkmrgrtrkrmk.c.bk.m.kr","....r..r.kmrbkrgrkmrk..bbbpbbbpbb.",
".....c.lk.rk.gk.rmrkgrk..m.bkm.bg.k....r","...r.c.k.gk..lrk.rmrgrmk.bmbbpbbkrbm.....pb","..c.r.g.rk.g.r.k.rgmk.b.mbbbbpbmr.bbk...pbp","..c...r.g.kcg.lm.krkg.rbmbbbpbbmbbmrg...b",
"c.....r..k.rc.mk.rgkrmkb.krbbpbbpb.cr.k.","..rk...g.k.g.r.grkmr.kpbbbbpbbbk.bb","...k....r.c.kr.gkrgkrmrb.bbbbbpbbbb.b..ca.r","r.....gk.rk.g.r.kgrkrkmbkbbbbbbpmbkbk...r..k.r",
"..k....r.g.r.krmkrkrmrb.kbkbbbbbbkb.....","...c.k.gt.rk.g.rrkrrmkrk.bkbbbbpbbkb...r.","..c..k.t.k.r.mrrrrkrrkm.mbpbbbbkkbmrr","k...c.t.g.r.krrrrrkrrrk.bbkbbbpkmbkrkr..p",
"t..r..gk.gr.gkrrgrkrrrb.mbbbbbkbbpk.rm...a.r","..r..c.tg.rcgrkgrrkrrbkrpmbbbbmkbkbrk.p.r.r","...gk.gcrgtrkgrkrrrrrrmkrbmbkbrkrkrk","...l.ctgrgmtrcgkrrrrrrkrmbrkmbrkrk",
"..k.t.gcrgtkrgkrrrrkrrrkrmbkbbpbkbrkrk","...c.gtkrgtcrgkrrkrrrrrkrmbbbbkmbrkrk.r","..t.gkcrtgrkcgrrkrrrgrrkrmmbkbbkmrk","...gtcgrgktcrgkrtrrkrrrrrrmkbbgrbmrkrk",
"..c.gtrkgctgrkgrrkrtrrrrkrrkrkgkrkrk.r","...tgcrgkrtcgkrgrkrrgrrkrkrgk.rk.r","..gtcbrgtkgcrmgtrkrgrktrkrrk.gk.rk",
".k..tcgrbtgrcgkrrrgrmrkrkrbkkbrkrkr.l","....tcgrtbgkrcgrktmgrkrbkmrkbkbr.r","..c.tgrbtcgkbrgmcrgtrmk.rbk.mk.rk","..gc.rgtbcgmrtcgbkrmgk.ckb.m.k.l.k.",
"...tgrcbgmrtcbgrkcgrtb.m.cb.gk.rm","..tcgtbgrcmtgbcrgtmk.g.rk.b...","c.tcgtcbgtgcbrtgcmk.c.kc",
"tc.tgtcgcggtcgbtgrmcgtca.cr.","cgtcgtcgtggcgtrbcrgtrgcb.cb.l.","..gtgcgtgcggtgcbrtgcmbgtc.l.ky","..gtggcgtcgggtcbgtrcbmtgrb.k",
"..ctgggtcggtgggtbrmcgtcbrb.c.gl.","..t.gtcgggtcggcgtrbgtcbm.r.k.yl","..ctcgtgcgtggctcgrtbcgbmr.c.l.g",
"..r.tcgtgcgtcgmtcbrtcbmtrk.c.","...gc.gtgcgtgcbrtcgbmac.r.k","tcb.ccgtcctgtc.ga.b.cat.......m",
"mcb.tccgcgct.gtac.bt.a.....a","bpbrcacgbcrtacg.bca.b.a.m","rbgcbtcmbcgbrct.acb.m.t.a","gbrbmcabpcbgrmcba.tc.a.l.c.",
"..mc.ab.mbcar.pmb.r.c.",
]

# Dusk terminator, read from the g, h and i panels
TERM_DOY = [1, 50, 100, 150, 180, 200, 230, 250, 280, 300, 320, 340, 365]
TERM_G = [9.08, 9.60, 9.95, 10.30, 10.56, 10.52, 10.20, 9.90, 9.30, 9.00, 8.82, 8.78, 9.03]
TERM_H = [9.07, 9.58, 9.93, 10.34, 10.54, 10.50, 10.20, 9.78, 9.20, 9.00, 8.86, 8.82, 9.00]
TERM_I = [9.08, 9.58, 9.98, 10.39, 10.57, 10.50, 10.17, 9.74, 9.15, 8.93, 8.82, 8.82, 9.00]

UT_TICKS = [0, 3, 6, 9, 12, 15, 18, 21, 24]
LT_LABELS = ["08", "11", "14", "17", "20", "23", "02", "05", "08"]
UT_LABELS = ["00", "03", "06", "09", "12", "15", "18", "21", "24"]
DOY_TICKS = [50, 100, 150, 200, 250, 300, 350]
YEARS = ["2013", "2014", "2015"]
LETTERS = list("abcdefghi")
NIGHT_BAR_S = [0, 13.3]
NIGHT_BAR_N = [4.1, 13.3]
CONJ_BAR_N = [16.3, 19.4]

JET = [[0, "rgb(0,0,128)"], [0.125, "rgb(0,0,255)"], [0.375, "rgb(0,255,255)"], [0.625, "rgb(255,255,0)"], [0.875, "rgb(255,0,0)"], [1, "rgb(128,0,0)"]]
FONT = "Liberation Sans"
TICK = dict(family=FONT, size=26, color="#222")
COLS = [(86, 564), (715, 1192), (1343, 1820)]
ROWS_PX = [(46, 419), (563, 937), (1082, 1454)]


def fx(p): return p / W
def fy(p): return 1 - p / H


def decode(rows, factor):
    out = []
    for row in rows[::-1]:
        vals = [2 * factor] * NCOL
        for tok in row.split():
            start, lv = tok.split(":")
            for i, c in enumerate(lv):
                c0 = int(start) + i
                if c0 < NCOL:
                    vals[c0] = (100 if c == "X" else max(int(c) * 10, 2)) * factor
        out.append(vals)
    return out


def decode_dir(rows):
    out = []
    for row in rows[::-1]:
        row = row.ljust(NCOL, ".")[:NCOL]
        out.append([DIR_DEG.get(c) for c in row])
    return out


XC = [0.25 + 0.5 * i for i in range(NCOL)]
Y_OCC = [6 + 10 * i for i in range(36)]

fig = go.Figure()
layout = {}
ann = []
shapes = []


def label(px, py, text, size=26, angle=0, color="#222"):
    ann.append(dict(x=fx(px), xref="paper", y=fy(py), yref="paper", text=text, textangle=angle, showarrow=False,
                    xanchor="center", yanchor="middle", font=dict(family=FONT, size=size, color=color)))


def add_axes(n, r, c, ymax, framed):
    s = "" if n == 1 else str(n)
    lc = "#555555" if framed else "#9aa0c8"
    layout["xaxis" + s] = dict(domain=[fx(COLS[c][0]), fx(COLS[c][1])], range=[0, 24], anchor="y" + s, tickvals=UT_TICKS,
                               showticklabels=False, ticks="inside" if framed else "", ticklen=5, tickcolor=lc, showgrid=False,
                               zeroline=False, showline=True, linecolor=lc, linewidth=2 if framed else 1, mirror=True)
    layout["yaxis" + s] = dict(domain=[fy(ROWS_PX[r][1]), fy(ROWS_PX[r][0])], range=[1, ymax], anchor="x" + s, tickvals=DOY_TICKS,
                               ticks="inside" if framed else "", ticklen=5, tickcolor=lc, showgrid=False, zeroline=False, showline=True,
                               linecolor=lc, linewidth=2 if framed else 1, mirror=True, ticklabelstandoff=3, tickfont=TICK)
    o1 = [26, 27, 28][r]
    o2 = [64, 65, 57][r]
    for t, lt, ut in zip(UT_TICKS, LT_LABELS, UT_LABELS):
        for off, txt in ((o1, lt), (o2, ut)):
            ann.append(dict(x=t, xref="x" + s, y=fy(ROWS_PX[r][1] + off), yref="paper", text=txt, showarrow=False,
                            xanchor="center", yanchor="middle", font=TICK))


def cbar(x0, x1, y0, y1, **kw):
    return dict(x=fx(x0), xanchor="left", xpad=0, thickness=x1 - x0, thicknessmode="pixels", y=fy(y1), yanchor="bottom", ypad=0,
                len=(y1 - y0) / H, lenmode="fraction", outlinecolor="#555", outlinewidth=1, ticks="inside", ticklen=5, tickcolor="#555",
                tickfont=TICK, **kw)


occ = [(A_ROWS, 1.0), (B_ROWS, 1.0), (C_ROWS, 1.0), (D_ROWS, 0.8), (E_ROWS, 0.8), (F_ROWS, 0.8)]
titles = ["TW {} Southward MSTID Occurrence"] * 3 + ["TW {} Northward MSTID Occurrence"] * 3 + ["TW {} MSTID Propagation Direction"] * 3

for i, (rows, fac) in enumerate(occ):
    n = i + 1
    s = "" if n == 1 else str(n)
    r, c = i // 3, i % 3
    add_axes(n, r, c, 361.5, False)
    zmax = 100 * fac
    kw = dict(x=XC, y=Y_OCC, z=decode(rows, fac), colorscale=JET, zmin=0, zmax=zmax, xaxis="x" + s, yaxis="y" + s, showscale=False)
    if i == 2:
        kw.update(showscale=True, colorbar=cbar(1843, 1878, 47, 421, tickvals=[0, 20, 40, 60, 80, 100]))
    if i == 5:
        kw.update(showscale=True, colorbar=cbar(1845, 1880, 566, 938, tickvals=[0, 20, 40, 60, 80]))
    fig.add_trace(go.Heatmap(**kw))
    b1 = NIGHT_BAR_S if r == 0 else NIGHT_BAR_N
    shapes.append(dict(type="rect", xref="x" + s, yref="y" + s + " domain", x0=b1[0], x1=b1[1], y0=-0.012, y1=0.015, fillcolor="#ff0000", line_width=0, layer="above"))
    if r == 1:
        shapes.append(dict(type="rect", xref="x" + s, yref="y" + s + " domain", x0=CONJ_BAR_N[0], x1=CONJ_BAR_N[1], y0=-0.012, y1=0.015, fillcolor="#ff00ff", line_width=0, layer="above"))

for j, (rows, term) in enumerate([(G_ROWS, TERM_G), (H_ROWS, TERM_H), (I_ROWS, TERM_I)]):
    n = 7 + j
    s = str(n)
    add_axes(n, 2, j, 366, True)
    step = 365 / len(rows)
    y_dir = [1 + step * (k + 0.5) for k in range(len(rows))]
    kw = dict(x=XC, y=y_dir, z=decode_dir(rows), colorscale="hsv", zmin=0, zmax=360, xaxis="x" + s, yaxis="y" + s, ygap=3, showscale=False, hoverongaps=False)
    if j == 2:
        kw.update(showscale=True, colorbar=cbar(1838, 1873, 1083, 1454, tickvals=[0, 45, 90, 135, 180, 225, 270, 315, 360],
                                                ticktext=["N", "NE", "E", "SE", "S", "SW", "W", "NW", "N"]))
    fig.add_trace(go.Heatmap(**kw))
    fig.add_trace(go.Scatter(x=term, y=TERM_DOY, mode="lines", line=dict(color="black", width=6, shape="spline"), xaxis="x" + s, yaxis="y" + s, showlegend=False))

for i, t in enumerate(titles):
    r, c = i // 3, i % 3
    label((COLS[c][0] + COLS[c][1]) / 2, ROWS_PX[r][0] - 18, "<b>" + t.format(YEARS[c]) + "</b>", size=27.5, color="black")

letter_pos = [(35, 18), (664, 18), (1290, 18), (35, 535), (664, 535), (1290, 535), (35, 1050), (664, 1050), (1285, 1050)]
for l, (px, py) in zip(LETTERS, letter_pos):
    label(px, py, "<b>" + l + "</b>", size=38, color="black")

label(25, 1482, "LT")
label(25, 1511, "UT")
label(15, 1268, "DOY", angle=-90)
label(585, 1240, "Dusk Terminator", size=20, angle=-90)
label(1948, 234, "Occurrence Rate(%)", angle=-90, size=23.5)
label(1937, 751, "Occurrence Rate(%)", angle=-90, size=23.5)
label(1943, 1268, "Propagation Direction", angle=-90, size=22.5)
shapes.append(dict(type="line", xref="paper", yref="paper", x0=fx(584), x1=fx(584), y0=fy(1323), y1=fy(1382), line=dict(color="black", width=5)))

fig.update_layout(width=W, height=H, margin=dict(l=0, r=0, t=0, b=0), paper_bgcolor="white", plot_bgcolor="white", showlegend=False,
                  annotations=ann, shapes=shapes, **layout)
fig.write_html("out.html", post_script="document.body.style.margin='0';", config={"displayModeBar": False})
